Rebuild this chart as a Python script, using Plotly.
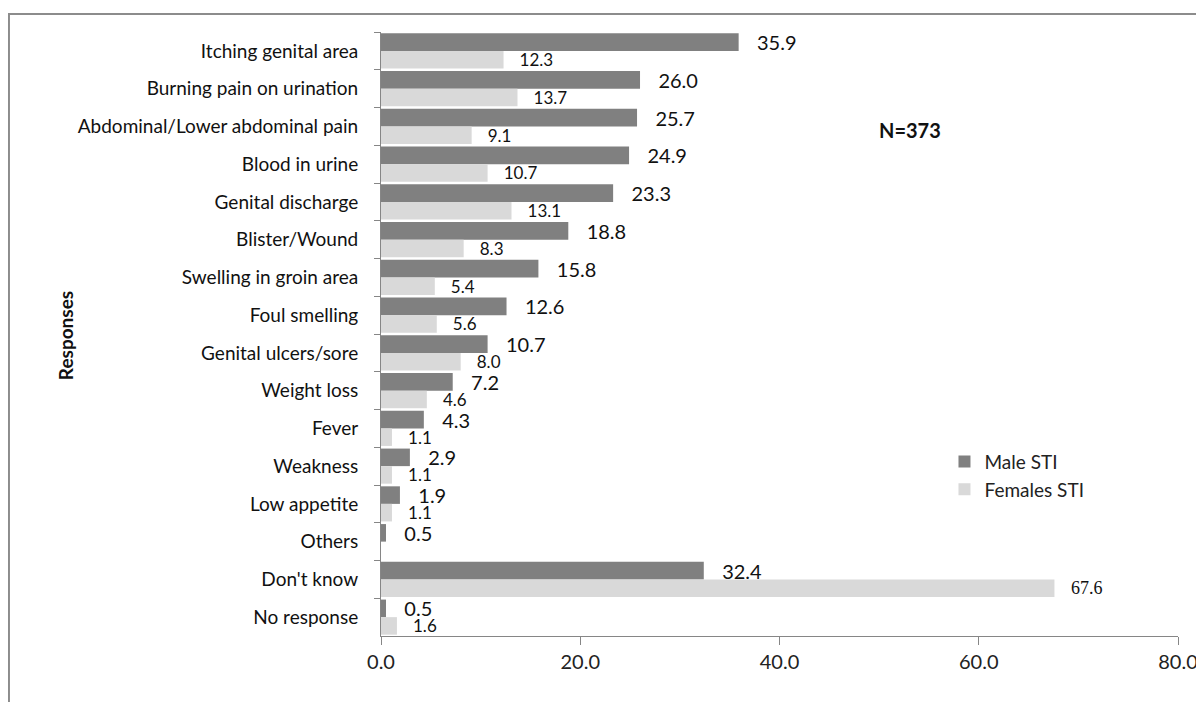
import plotly.graph_objects as go

categories = ["Itching genital area", "Burning pain on urination", "Abdominal/Lower abdominal pain",
              "Blood in urine", "Genital discharge", "Blister/Wound", "Swelling in groin area",
              "Foul smelling", "Genital ulcers/sore", "Weight loss", "Fever", "Weakness",
              "Low appetite", "Others", "Don't know", "No response"]
male_sti = [35.9, 26.0, 25.7, 24.9, 23.3, 18.8, 15.8, 12.6, 10.7, 7.2, 4.3, 2.9, 1.9, 0.5, 32.4, 0.5]
female_sti = [12.3, 13.7, 9.1, 10.7, 13.1, 8.3, 5.4, 5.6, 8.0, 4.6, 1.1, 1.1, 1.1, None, 67.6, 1.6]
x_ticks = [0, 20, 40, 60, 80]

FONT = "Lato, Open Sans, sans-serif"

fig = go.Figure()
fig.add_trace(go.Bar(
    name="Male STI", y=categories, x=male_sti, orientation="h",
    marker=dict(color="#808080", line=dict(width=0)),
    texttemplate="   %{x:.1f}", textposition="outside", constraintext="none",
    textfont=dict(family=FONT, size=20, color="#111111"), cliponaxis=False,
))
fem_fam = [("Liberation Serif" if (v is not None and v > 60) else FONT) for v in female_sti]
fem_size = [(18 if (v is not None and v > 60) else 17) for v in female_sti]
fig.add_trace(go.Bar(
    name="Females STI", y=categories, x=female_sti, orientation="h",
    marker=dict(color="#d9d9d9", line=dict(width=0)),
    texttemplate="   %{x:.1f}", textposition="outside", constraintext="none",
    textfont=dict(family=fem_fam, size=fem_size, color="#111111"), cliponaxis=False,
))

fig.update_layout(
    width=1196, height=694,
    margin=dict(l=373, r=26, t=24, b=66, autoexpand=False),
    paper_bgcolor="white", plot_bgcolor="white",
    barmode="group", bargap=0.07, bargroupgap=0,
    font=dict(family=FONT, color="#111111"),
    showlegend=True,
    legend=dict(x=0.707, y=0.32, xanchor="left", yanchor="top",
                font=dict(family=FONT, size=19, color="#222222"),
                bgcolor="rgba(0,0,0,0)", itemwidth=30, tracegroupgap=2),
    xaxis=dict(range=[0, 80], tickvals=x_ticks, tickformat=".1f",
               ticks="outside", ticklen=8, tickcolor="#868686",
               showline=True, linecolor="#868686", linewidth=1,
               showgrid=False, zeroline=False, automargin=False,
               tickfont=dict(family=FONT, size=20, color="#222222")),
    yaxis=dict(autorange="reversed", tickson="boundaries",
               ticks="outside", ticklen=6, tickcolor="#868686",
               showline=True, linecolor="#868686", linewidth=1,
               showgrid=False, ticklabelstandoff=18, automargin=False,
               tickfont=dict(family=FONT, size=19, color="#111111")),
    annotations=[
        dict(text="<b>Responses</b>", xref="paper", yref="paper", x=-0.3965, y=0.498,
             xanchor="center", yanchor="middle",
             textangle=-90, showarrow=False, font=dict(family=FONT, size=19, color="#111111")),
        dict(text="<b>N=373</b>", xref="paper", yref="paper", x=0.664, y=0.838,
             xanchor="center", yanchor="middle",
             showarrow=False, font=dict(family=FONT, size=20, color="#111111")),
    ],
    shapes=[
        dict(type="rect", xref="paper", yref="paper", x0=-0.4668, y0=-0.2, x1=1.2, y1=1.0298,
             line=dict(color="#8c8c8c", width=2), layer="below"),
    ],
)

fig.write_html("out.html")
